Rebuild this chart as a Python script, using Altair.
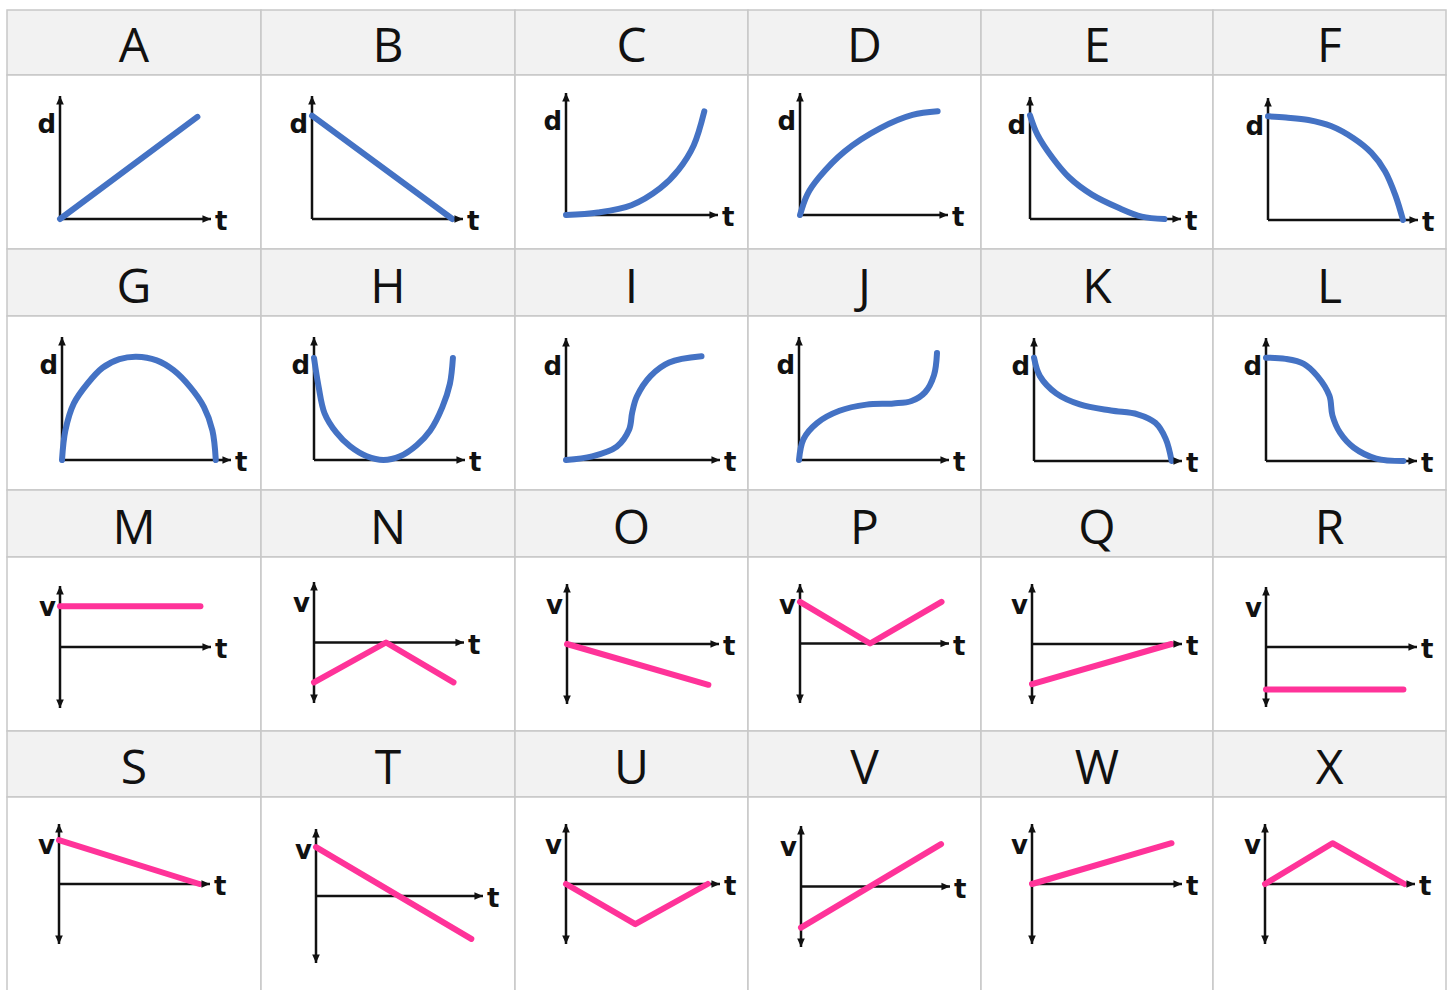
import altair as alt
import pandas as pd

# ---- grid layout -----------------------------------------------------------
LETTERS = list("ABCDEFGHIJKLMNOPQRSTUVWX")
COL_WIDTHS = [254, 254, 233, 233, 232, 233]
HEADER_HEIGHTS = [65, 67, 67, 66]
PANEL_HEIGHTS = [174, 174, 174, 194]

BLUE = "#4472c4"
PINK = "#ff3399"
GRID = "#c8c8c8"
HEADER_BG = "#f2f2f2"
INK = "#111111"

# ---- distance-time curves (t, d in axis units: 1 = arrow tip) ---------------
A_T = [0, 0.91]
A_D = [0, 0.83]
B_T = [0, 0.93]
B_D = [0.84, 0]
C_T = [0, 0.21, 0.43, 0.62, 0.74, 0.84, 0.91]
C_D = [0, 0.02, 0.08, 0.22, 0.37, 0.57, 0.85]
D_T = [0, 0.05, 0.13, 0.30, 0.54, 0.76, 0.93]
D_D = [0, 0.17, 0.31, 0.52, 0.71, 0.82, 0.85]
E_T = [0, 0.05, 0.15, 0.26, 0.41, 0.59, 0.74, 0.89]
E_D = [0.85, 0.69, 0.50, 0.34, 0.20, 0.09, 0.02, 0]
F_T = [0, 0.12, 0.27, 0.42, 0.57, 0.69, 0.78, 0.85, 0.90]
F_D = [0.85, 0.84, 0.82, 0.77, 0.67, 0.55, 0.40, 0.20, 0]
G_T = [0, 0.02, 0.07, 0.15, 0.24, 0.34, 0.44, 0.56, 0.66, 0.76, 0.84, 0.89, 0.91]
G_D = [0, 0.24, 0.46, 0.62, 0.75, 0.82, 0.84, 0.81, 0.73, 0.59, 0.43, 0.24, 0]
H_T = [0, 0.03, 0.07, 0.15, 0.24, 0.35, 0.46, 0.57, 0.68, 0.77, 0.85, 0.90, 0.92]
H_D = [0.83, 0.60, 0.38, 0.22, 0.11, 0.03, 0, 0.03, 0.12, 0.24, 0.43, 0.62, 0.83]
I_T = [0, 0.17, 0.33, 0.41, 0.43, 0.46, 0.55, 0.67, 0.88]
I_D = [0, 0.03, 0.11, 0.25, 0.39, 0.52, 0.69, 0.80, 0.85]
J_T = [0, 0.03, 0.12, 0.27, 0.45, 0.63, 0.75, 0.84, 0.90, 0.92]
J_D = [0, 0.17, 0.30, 0.40, 0.45, 0.46, 0.48, 0.55, 0.69, 0.87]
K_T = [0, 0.04, 0.15, 0.31, 0.52, 0.70, 0.82, 0.89, 0.93]
K_D = [0.84, 0.69, 0.55, 0.46, 0.41, 0.38, 0.31, 0.18, 0]
L_T = [0, 0.13, 0.25, 0.34, 0.42, 0.44, 0.49, 0.58, 0.73, 0.91]
L_D = [0.84, 0.83, 0.79, 0.69, 0.53, 0.37, 0.23, 0.11, 0.02, 0]

# ---- velocity-time graphs (v from -1 to 1 between the arrow tips) -----------
M_T = [0, 0.93]
M_V = [0.67, 0.67]
N_T = [0, 0.48, 0.93]
N_V = [-0.66, 0, -0.66]
O_T = [0, 0.93]
O_V = [0, -0.68]
P_T = [0, 0.47, 0.95]
P_V = [0.70, 0, 0.70]
Q_T = [0, 0.93]
Q_V = [-0.67, 0]
R_T = [0, 0.91]
R_V = [-0.71, -0.71]
S_T = [0, 0.93]
S_V = [0.73, 0]
T_T = [0, 0.93]
T_V = [0.73, -0.64]
U_T = [0, 0.45, 0.92]
U_V = [0, -0.67, 0]
V_T = [0, 0.94]
V_V = [-0.68, 0.70]
W_T = [0, 0.93]
W_V = [0, 0.68]
X_T = [0, 0.45, 0.93]
X_V = [0, 0.68, 0]

SERIES = {
    "A": (A_T, A_D), "B": (B_T, B_D), "C": (C_T, C_D), "D": (D_T, D_D),
    "E": (E_T, E_D), "F": (F_T, F_D), "G": (G_T, G_D), "H": (H_T, H_D),
    "I": (I_T, I_D), "J": (J_T, J_D), "K": (K_T, K_D), "L": (L_T, L_D),
    "M": (M_T, M_V), "N": (N_T, N_V), "O": (O_T, O_V), "P": (P_T, P_V),
    "Q": (Q_T, Q_V), "R": (R_T, R_V), "S": (S_T, S_V), "T": (T_T, T_V),
    "U": (U_T, U_V), "V": (V_T, V_V), "W": (W_T, W_V), "X": (X_T, X_V),
}

# Pixel frame of each small plot inside its cell:
# (origin x, origin y, t-arrow tip x, upper arrow tip y, lower arrow tip y)
FRAMES = {
    "A": (53, 144, 204, 21, None), "B": (51, 144, 202, 21, None),
    "C": (51, 140, 203, 18, None), "D": (52, 140, 200, 18, None),
    "E": (49, 144, 200, 22, None), "F": (55, 145, 205, 23, None),
    "G": (55, 144, 224, 21, None), "H": (53, 144, 204, 21, None),
    "I": (51, 144, 205, 22, None), "J": (51, 144, 201, 21, None),
    "K": (53, 145, 201, 22, None), "L": (53, 145, 204, 22, None),
    "M": (53, 90, 204, 29, 151), "N": (53, 86, 203, 25, 146),
    "O": (52, 87, 204, 27, 147), "P": (52, 87, 201, 27, 146),
    "Q": (51, 87, 201, 27, 147), "R": (53, 89, 204, 30, 150),
    "S": (52, 87, 203, 27, 147), "T": (55, 99, 222, 32, 166),
    "U": (51, 87, 205, 27, 147), "V": (53, 89, 202, 29, 150),
    "W": (51, 87, 201, 27, 147), "X": (52, 87, 202, 27, 147),
}

ARROW_PATHS = {
    "right": "M0,0L-1.9,-0.85L-1.9,0.85Z",
    "up": "M0,0L-0.85,1.9L0.85,1.9Z",
    "down": "M0,0L-0.85,-1.9L0.85,-1.9Z",
}
LABEL_FONT = "DejaVu Sans"


def header(letter, w, h):
    return (
        alt.Chart(pd.DataFrame({"label": [letter]}))
        .mark_text(font="Open Sans", fontSize=48, align="center",
                   baseline="alphabetic", color=INK)
        .encode(text="label:N", x=alt.value(w / 2), y=alt.value(h - 13))
        .properties(width=w, height=h,
                    view=alt.ViewBackground(fill=HEADER_BG, stroke=GRID,
                                            strokeWidth=1.5))
    )


def panel(letter, w, h):
    ox, oy, tx, ty, by = FRAMES[letter]
    ts, vs = SERIES[letter]
    velocity = by is not None
    xs = alt.Scale(domain=[0, 1], range=[ox, tx], nice=False, zero=False)
    if velocity:
        ys = alt.Scale(domain=[-1, 1], range=[by, ty], nice=False, zero=False)
        low = -1
    else:
        ys = alt.Scale(domain=[0, 1], range=[oy, ty], nice=False, zero=False)
        low = 0

    x = alt.X("t:Q", scale=xs, axis=None)
    y = alt.Y("v:Q", scale=ys, axis=None)

    axes_df = pd.DataFrame({"t": [0, 0], "v": [0, low], "t2": [1, 0], "v2": [0, 1]})
    axes = alt.Chart(axes_df).mark_rule(color=INK, strokeWidth=2.5).encode(
        x=x, y=y, x2="t2:Q", y2="v2:Q")

    tips = [{"t": 1, "v": 0, "dir": "right"}, {"t": 0, "v": 1, "dir": "up"}]
    if velocity:
        tips.append({"t": 0, "v": -1, "dir": "down"})
    arrows = alt.Chart(pd.DataFrame(tips)).mark_point(
        filled=True, size=81, opacity=1, color=INK).encode(
        x=x, y=y,
        shape=alt.Shape("dir:N", legend=None,
                        scale=alt.Scale(domain=list(ARROW_PATHS),
                                        range=list(ARROW_PATHS.values()))))

    curve_df = pd.DataFrame({"t": ts, "v": vs, "i": range(len(ts))})
    curve = alt.Chart(curve_df).mark_line(
        color=PINK if velocity else BLUE, strokeWidth=6, strokeCap="round",
        strokeJoin="round",
        interpolate="linear" if velocity else "catmull-rom").encode(
        x=x, y=y, order="i:Q")

    ylab = alt.Chart(pd.DataFrame({"t": [0], "v": [1]})).mark_text(
        text="v" if velocity else "d", font=LABEL_FONT, fontWeight="bold",
        fontSize=26, align="right", baseline="alphabetic",
        dx=-4, dy=30 if velocity else 37, color=INK).encode(x=x, y=y)
    tlab = alt.Chart(pd.DataFrame({"t": [1], "v": [0]})).mark_text(
        text="t", font=LABEL_FONT, fontWeight="bold", fontSize=26,
        align="left", baseline="alphabetic", dx=4, dy=11, color=INK).encode(x=x, y=y)

    return alt.layer(axes, curve, arrows, ylab, tlab).properties(
        width=w, height=h,
        view=alt.ViewBackground(fill="white", stroke=GRID, strokeWidth=1.5))


# header rows and plot rows alternate in one flat six-column grid
cells = []
for r in range(4):
    letters = LETTERS[r * 6:(r + 1) * 6]
    cells += [header(l, w, HEADER_HEIGHTS[r]) for l, w in zip(letters, COL_WIDTHS)]
    cells += [panel(l, w, PANEL_HEIGHTS[r]) for l, w in zip(letters, COL_WIDTHS)]

chart = (
    alt.concat(*cells, columns=6, spacing=0, bounds="flush", align="each")
    .properties(padding={"left": 6, "top": 9, "right": 0, "bottom": 0},
                background="white")
    .configure_view(stroke=GRID, strokeWidth=1.5)
)

chart.save("out.html", embed_options={"renderer": "svg", "actions": False})
